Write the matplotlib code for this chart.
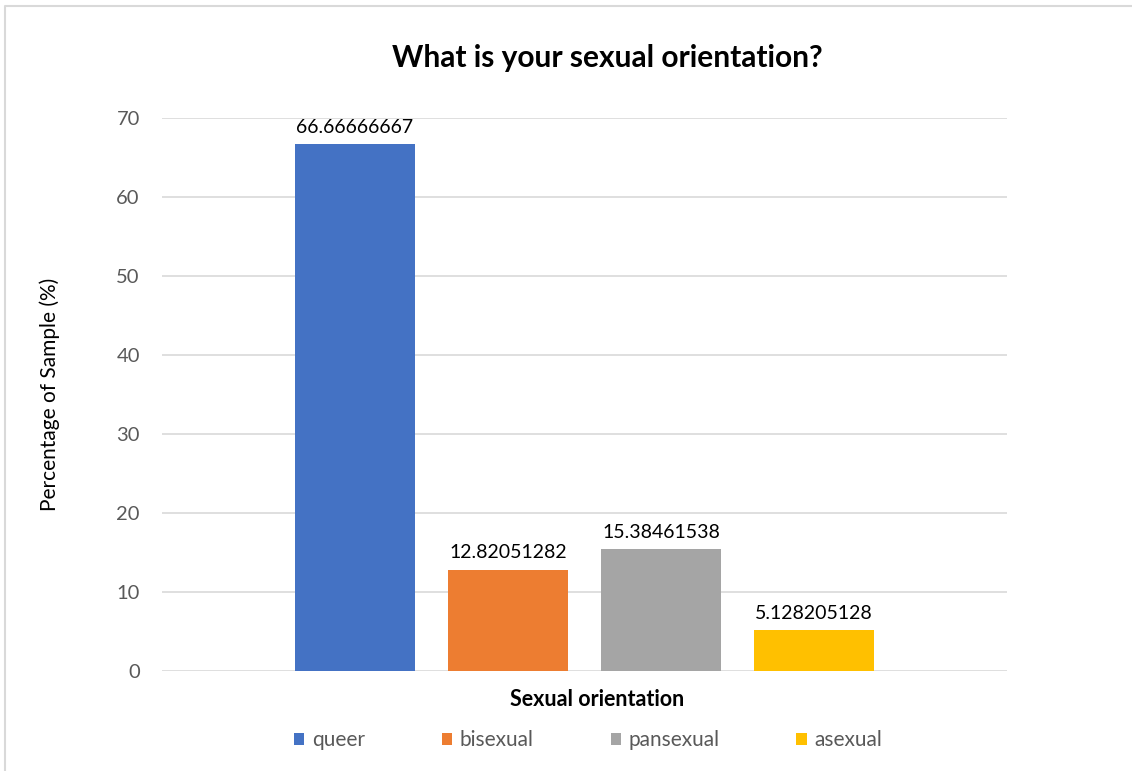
import matplotlib
matplotlib.use("Agg")
import matplotlib.pyplot as plt
from matplotlib.lines import Line2D

plt.rcParams['font.family'] = ['Lato', 'DejaVu Sans']

# survey answers, share of sample in percent
categories = ['queer', 'bisexual', 'pansexual', 'asexual']
percentages = [66.66666667, 12.82051282, 15.38461538, 5.128205128]
bar_colors = ['#4472C4', '#ED7D31', '#A5A5A5', '#FFC000']
yticks = [0, 10, 20, 30, 40, 50, 60, 70]

W, H = 1132, 771
fig = plt.figure(figsize=(W / 100, H / 100), dpi=100)
ax = fig.add_axes([162 / W, 1 - 671 / H, 845 / W, 553 / H])

x = list(range(len(categories)))
bars = ax.bar(x, percentages, width=0.784, color=bar_colors, zorder=3,
              label=categories)
for b, v in zip(bars, percentages):
    ax.annotate(f'{v:.10g}', (b.get_x() + b.get_width() / 2, v),
                xytext=(0, 6), textcoords='offset points',
                ha='center', va='bottom', fontsize=14, color='#000000')

ax.set_xlim(-1.261, len(categories) - 1 + 1.261)
ax.set_ylim(0, 70)
ax.set_yticks(yticks)
ax.set_xticks([])
ax.tick_params(axis='y', length=0, pad=16, labelsize=14.5, labelcolor='#595959')
ax.grid(axis='y', color='#d9d9d9', lw=1.2, zorder=0)
for s in ax.spines.values():
    s.set_visible(False)

ax.set_ylabel('Percentage of Sample (%)', fontsize=15, color='#000000')
ax.yaxis.set_label_coords(-(162 - 50) / 845, 0.5)
ax.yaxis.label.set_va('center')

fig.text(607 / W, 1 - 58 / H, 'What is your sexual orientation?',
         ha='center', va='center', fontsize=21.5, fontweight='bold')
fig.text(597 / W, 1 - 700 / H, 'Sexual orientation', ha='center',
         va='center', fontsize=15.5, fontweight='bold')

leg = fig.legend(handles=bars, labels=categories, ncol=4, frameon=False,
                 loc='center', bbox_to_anchor=(588 / W, 1 - 740 / H),
                 fontsize=15, handlelength=0.5, handleheight=0.5,
                 handletextpad=0.35, columnspacing=3.7)
for t in leg.get_texts():
    t.set_color('#595959')

# outer chart border (only left and top edges show)
fig.add_artist(Line2D([5 / W, 5 / W, 1], [0, 1 - 6 / H, 1 - 6 / H],
                      transform=fig.transFigure, color='#d9d9d9', lw=1.5))

fig.savefig('out.png', dpi=100)
